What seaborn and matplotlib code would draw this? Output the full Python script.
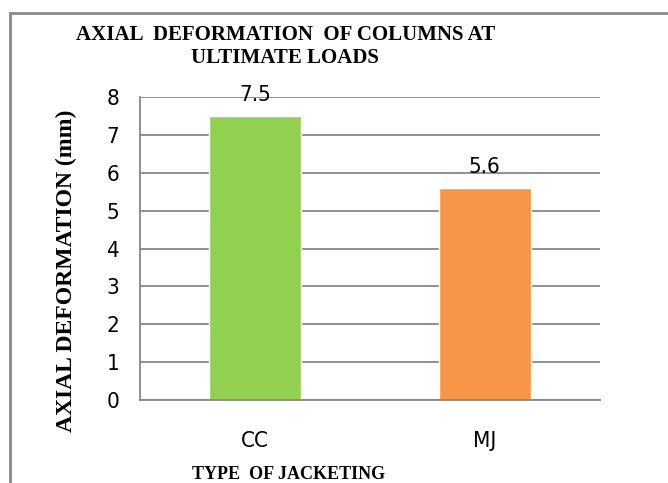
import numpy as np
import pandas as pd
import matplotlib
matplotlib.use("Agg")
import matplotlib.pyplot as plt
import seaborn as sns
from matplotlib.patches import Rectangle

# Données du graphique
categories = ["CC", "MJ"]
deformation = [7.5, 5.6]
couleurs = ["#92D050", "#F79646"]

df = pd.DataFrame({"type": categories, "deformation": deformation})

sns.set_style("white")
plt.rcParams['font.family'] = ['DejaVu Sans']
plt.rcParams['font.stretch'] = 'condensed'
plt.rcParams['text.color'] = 'black'
plt.rcParams['xtick.color'] = 'black'
plt.rcParams['ytick.color'] = 'black'
plt.rcParams['axes.labelcolor'] = 'black'

fig = plt.figure(figsize=(6.68, 4.83), dpi=100)
ax = fig.add_axes([0.2096, 0.1718, 0.688, 0.6274])

sns.barplot(data=df, x="type", y="deformation", hue="type", palette=couleurs,
            width=0.4, legend=False, ax=ax, saturation=1)

ax.set_ylim(0, 8)
ax.set_xlim(-0.5, 1.5)
ax.set_yticks(range(0, 9))
ax.yaxis.grid(True, color="#878787", linewidth=1.3)
ax.set_axisbelow(True)

# bordures des axes
for s in ["top", "right"]:
    ax.spines[s].set_visible(False)
for s in ["left", "bottom"]:
    ax.spines[s].set_color("#878787")
    ax.spines[s].set_linewidth(1.3)

# ticks : graduations entre les catégories
ax.set_xticks([-0.5, 0.5, 1.5], minor=True)
ax.tick_params(axis="x", which="major", length=0, labelsize=16, pad=22)
ax.tick_params(axis="x", which="minor", length=8, width=1.3, color="#878787", direction="out")
ax.tick_params(axis="y", length=9, width=1.3, color="#878787", labelcolor="black",
               direction="out", labelsize=16, pad=6)

# étiquettes des barres
for c in ax.containers:
    ax.bar_label(c, fmt="%.1f", fontsize=16, padding=8)

serif = ['Liberation Serif', 'DejaVu Serif']
ax.set_xlabel("TYPE  OF JACKETING", family=serif, fontweight="bold", fontsize=13, stretch="normal")
ax.xaxis.label.set_va("center")
ax.xaxis.set_label_coords(0.324, -0.247)
ax.set_ylabel("AXIAL DEFORMATION (mm)", family=serif, fontweight="bold", fontsize=17, stretch="normal")
ax.yaxis.label.set_va("center")
ax.yaxis.set_label_coords(-0.159, 0.426)

fig.text(0.427, 0.904, "AXIAL  DEFORMATION  OF COLUMNS AT\nULTIMATE LOADS", ha="center", va="center",
         family=serif, fontweight="bold", fontsize=15, linespacing=1.2, stretch="normal")

# cadre autour du graphique
fig.patches.append(Rectangle((10/668, -0.1), 1.2, 1 - 13/483 + 0.1, transform=fig.transFigure,
                             fill=False, edgecolor="#888888", linewidth=2))

fig.savefig("out.png", dpi=100)
